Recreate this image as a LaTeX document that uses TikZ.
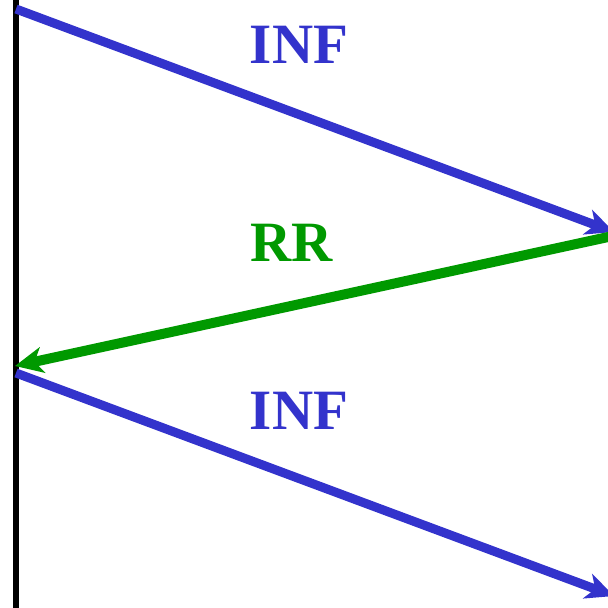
\documentclass[tikz,border=0pt]{standalone}
\usepackage{fontspec}
\setmainfont{Liberation Serif}
\usetikzlibrary{arrows.meta}
\definecolor{infblue}{RGB}{51,51,204}
\definecolor{rrgreen}{RGB}{0,153,0}
\begin{document}
\begin{tikzpicture}[x=1pt,y=-1pt,
  msg/.style={line width=9pt,-{Stealth[length=28pt,width=26pt,inset=8pt]}},
  lbl/.style={font=\fontsize{57}{60}\selectfont\bfseries}]
\useasboundingbox (0,0) rectangle (608,608);
\clip (0,0) rectangle (608,608);
\draw[line width=6pt] (16,-5) -- (16,615);
\coordinate (a1) at (16,9);
\coordinate (b1) at (614,232);
\coordinate (b2) at (622,234);
\coordinate (a2) at (15,366);
\coordinate (a3) at (16,373);
\coordinate (b3) at (614,596);
\draw[msg,infblue] (a1) -- (b1);
\draw[msg,rrgreen,line width=10pt] (b2) -- (a2);
\draw[msg,infblue] (a3) -- (b3);
\node[lbl,text=infblue] (l1) at (299,45) {INF};
\node[lbl,text=rrgreen] (l2) at (292,243) {RR};
\node[lbl,text=infblue] (l3) at (299,411) {INF};
\end{tikzpicture}
\end{document}
